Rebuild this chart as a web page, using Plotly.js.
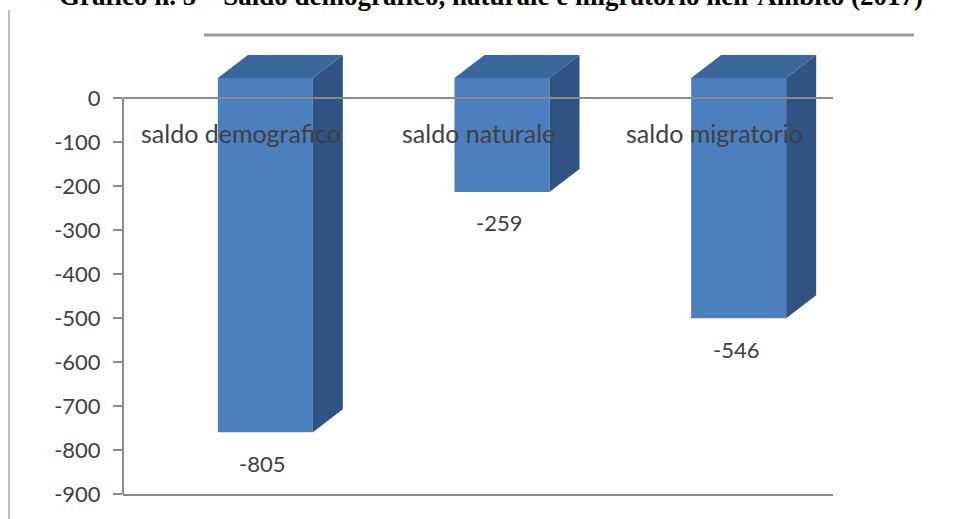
<!DOCTYPE html>
<html>
<head>
<meta charset="utf-8">
<script src="https://cdn.plot.ly/plotly-3.0.1.min.js"></script>
<style>
  html, body { margin: 0; padding: 0; background: #ffffff; }
  #chart { width: 953px; height: 519px; }
</style>
</head>
<body>
<div id="chart"></div>
<script>
// Saldo demografico, naturale e migratorio (2017)
const categories = ['saldo demografico', 'saldo naturale', 'saldo migratorio'];
const values = [-805, -259, -546];
const tickValues = [0, -100, -200, -300, -400, -500, -600, -700, -800, -900];
const tickLabels = ['0', '-100', '-200', '-300', '-400', '-500', '-600', '-700', '-800', '-900'];
const titleText = 'Grafico n. 5 \u2013 Saldo demografico, naturale e migratorio nell\u2019Ambito (2017)';

// Plot box in pixels; the box reaches above the zero line so the
// extruded tops of the bars have room to be drawn
const W = 953, H = 519;
const M = { l: 123, r: 120, t: 40, b: 25 };
const plotW = W - M.l - M.r, plotH = H - M.t - M.b;
const zeroPx = 98;                       // pixel row of the value 0
const yMin = -900;
const pxY = (H - M.b - zeroPx) / (0 - yMin);
const yMax = (zeroPx - M.t) / pxY;
const xRange = [-0.5, 2.5], yRange = [yMin, yMax];
const pxX = plotW / (xRange[1] - xRange[0]);

// front face is lifted and pushed right against the back wall; depth goes up-right
const frontShiftX = 24 / pxX;
const frontLift = 20 / pxY;
const barWidth = 95 / pxX;
const depthX = 30 / pxX;
const depthY = 23 / pxY;

const colFront = '#4c7fbe';
const colSide = '#2f5484';
const colTop = '#3b669c';
const textCol = '#404040';
const lineCol = '#8a8a8a';
const font = 'Lato, "Open Sans", sans-serif';

const idx = categories.map((_, i) => i);

const traces = [];

// front faces
traces.push({
  type: 'bar',
  x: idx,
  y: values,
  base: values.map(() => frontLift),
  width: barWidth,
  offset: frontShiftX - barWidth / 2,
  marker: { color: colFront, line: { width: 0 } },
  hoverinfo: 'skip',
  showlegend: false
});

// side and top faces
values.forEach((v, i) => {
  const L = i + frontShiftX - barWidth / 2;
  const R = i + frontShiftX + barWidth / 2;
  const top = frontLift;
  const bot = v + frontLift;
  traces.push({
    type: 'scatter', mode: 'lines', fill: 'toself',
    x: [R, R + depthX, R + depthX, R, R],
    y: [top, top + depthY, bot + depthY, bot, top],
    fillcolor: colSide, line: { width: 0, color: colSide },
    hoverinfo: 'skip', showlegend: false
  });
  traces.push({
    type: 'scatter', mode: 'lines', fill: 'toself',
    x: [L, R, R + depthX, L + depthX, L],
    y: [top, top, top + depthY, top + depthY, top],
    fillcolor: colTop, line: { width: 0, color: colTop },
    hoverinfo: 'skip', showlegend: false
  });
});

const annotations = [];

// category names along the zero line
categories.forEach((c, i) => {
  annotations.push({
    x: i, y: 0, xref: 'x', yref: 'y',
    text: c, showarrow: false,
    yanchor: 'middle', yshift: -35,
    font: { family: font, size: 25, color: textCol }
  });
});

// value labels under each bar
values.forEach((v, i) => {
  annotations.push({
    x: i + frontShiftX - 0.012, y: v + frontLift, xref: 'x', yref: 'y',
    text: String(v), showarrow: false,
    yanchor: 'middle', yshift: -31,
    font: { family: font, size: 22, color: textCol }
  });
});

const px2paperX = p => (p - M.l) / plotW;
const px2paperY = p => (H - M.b - p) / plotH;

// heading, partly above the page edge
annotations.push({
  x: px2paperX(491), y: px2paperY(-4), xref: 'paper', yref: 'paper',
  text: '<b>' + titleText + '</b>', showarrow: false,
  xanchor: 'center', yanchor: 'middle',
  font: { family: '"Liberation Serif", "Times New Roman", serif', size: 27, color: '#000000' }
});

const layout = {
  width: W, height: H,
  margin: M,
  paper_bgcolor: '#ffffff',
  plot_bgcolor: 'rgba(0,0,0,0)',
  showlegend: false,
  xaxis: {
    range: xRange, showgrid: false, zeroline: false,
    showticklabels: false, ticks: '',
    showline: true, linecolor: lineCol, linewidth: 2,
    fixedrange: true
  },
  yaxis: {
    range: yRange, showgrid: false, zeroline: false,
    tickvals: tickValues, ticktext: tickLabels,
    ticks: 'outside', ticklen: 9, tickwidth: 2, tickcolor: lineCol,
    ticklabelstandoff: 8,
    showline: false,
    tickfont: { family: font, size: 22, color: textCol },
    fixedrange: true
  },
  shapes: [
    // value axis line, from 0 down to the bottom
    { type: 'line', xref: 'paper', yref: 'y', x0: 0, x1: 0, y0: yMin, y1: 0,
      line: { color: lineCol, width: 2 }, layer: 'above' },
    // zero line, drawn over the bars
    { type: 'line', xref: 'paper', yref: 'y', x0: 0, x1: 1, y0: 0, y1: 0,
      line: { color: lineCol, width: 2 }, layer: 'above' },
    // page frame lines
    { type: 'line', xref: 'paper', yref: 'paper',
      x0: px2paperX(9), x1: px2paperX(9), y0: px2paperY(10), y1: px2paperY(519),
      line: { color: '#bdbdbd', width: 2 }, layer: 'above' },
    { type: 'line', xref: 'paper', yref: 'paper',
      x0: px2paperX(204), x1: px2paperX(914), y0: px2paperY(35), y1: px2paperY(35),
      line: { color: '#9a9a9a', width: 3 }, layer: 'above' }
  ],
  annotations: annotations
};

Plotly.newPlot('chart', traces, layout, { displayModeBar: false, staticPlot: true });
</script>
</body>
</html>
